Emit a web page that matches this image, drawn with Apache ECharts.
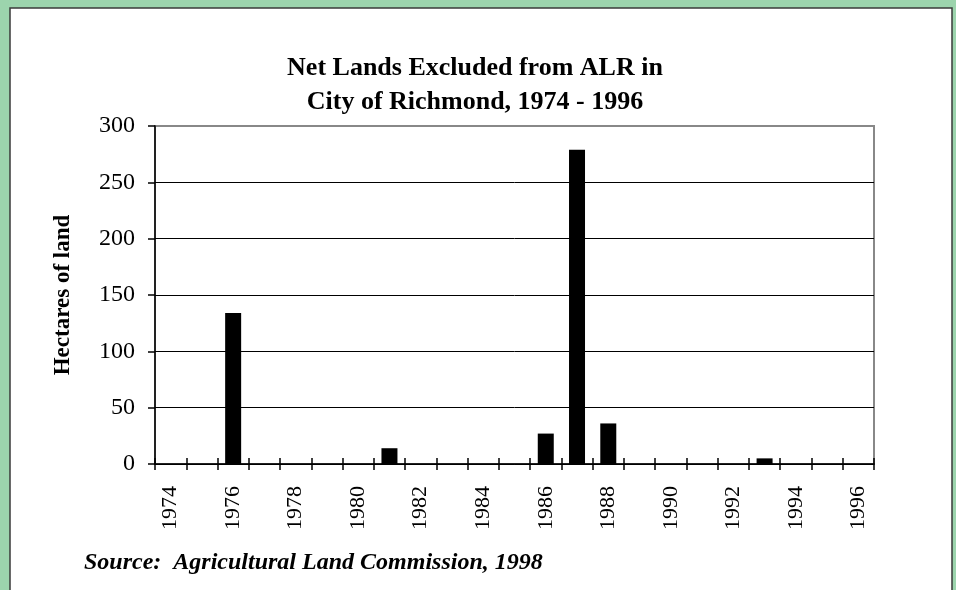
<!DOCTYPE html>
<html>
<head>
<meta charset="utf-8">
<script src="https://cdn.jsdelivr.net/npm/echarts@6/dist/echarts.min.js"></script>
<style>
  html, body { margin: 0; padding: 0; background: #9cd4ad; }
  #main { width: 956px; height: 590px; }
</style>
</head>
<body>
<div id="main"></div>
<script>
// years on the x axis
var years = ['1974', '1975', '1976', '1977', '1978', '1979', '1980', '1981',
  '1982', '1983', '1984', '1985', '1986', '1987', '1988', '1989', '1990',
  '1991', '1992', '1993', '1994', '1995', '1996'];
// net hectares excluded per year
var hectares = [0, 0, 134, 0, 0, 0, 0, 14, 0, 0, 0, 0, 27, 279, 36, 0, 0, 0, 0, 5, 0, 0, 0];

var serif = 'Liberation Serif';

var myChart = echarts.init(document.getElementById('main'));
var option = {
  animation: false,
  backgroundColor: '#9cd4ad',
  graphic: [
    {
      type: 'rect',
      z: -10,
      shape: { x: 10, y: 8, width: 942, height: 600 },
      style: { fill: '#fff', stroke: '#3a3a3a', lineWidth: 1.5 }
    },
    {
      type: 'text',
      left: 84,
      top: 551,
      style: {
        text: 'Source:  Agricultural Land Commission, 1998',
        font: 'italic bold 24px "Liberation Serif"',
        fill: '#000'
      }
    }
  ],
  title: {
    text: 'Net Lands Excluded from ALR in\nCity of Richmond, 1974 - 1996',
    left: 470,
    top: 46,
    textAlign: 'center',
    textStyle: {
      fontFamily: serif,
      fontSize: 26,
      fontWeight: 'bold',
      color: '#000',
      lineHeight: 34
    }
  },
  grid: {
    left: 155,
    right: 82,
    top: 126,
    bottom: 126,
    show: true,
    borderColor: '#888',
    borderWidth: 2
  },
  xAxis: [
    {
      type: 'category',
      data: years,
      axisLine: { lineStyle: { color: '#000', width: 1.5 } },
      axisTick: { show: true, interval: 0, length: 6, lineStyle: { color: '#000', width: 1.5 } },
      axisLabel: {
        interval: 1,
        rotate: 90,
        margin: 22,
        color: '#000',
        fontFamily: serif,
        fontSize: 22
      }
    },
    {
      // inside half of the crossing ticks
      type: 'category',
      data: years,
      position: 'bottom',
      axisLine: { show: false },
      axisTick: { show: true, inside: true, interval: 0, length: 6, lineStyle: { color: '#000', width: 1.5 } },
      axisLabel: { show: false },
      splitLine: { show: false }
    }
  ],
  yAxis: {
    type: 'value',
    min: 0,
    max: 300,
    interval: 50,
    name: 'Hectares of land',
    nameLocation: 'middle',
    nameGap: 80,
    nameRotate: 90,
    nameTextStyle: {
      fontFamily: serif,
      fontSize: 23,
      fontWeight: 'bold',
      color: '#000'
    },
    axisLine: { show: true, lineStyle: { color: '#000', width: 1.5 } },
    axisTick: { show: true, length: 7, lineStyle: { color: '#000', width: 1.5 } },
    axisLabel: {
      margin: 20,
      color: '#000',
      fontFamily: serif,
      fontSize: 24
    },
    splitLine: { showMaxLine: false, lineStyle: { color: '#000', width: 1 } }
  },
  series: [
    {
      type: 'bar',
      data: hectares,
      barWidth: 16,
      itemStyle: { color: '#000' }
    }
  ]
};
myChart.setOption(option);
</script>
</body>
</html>
